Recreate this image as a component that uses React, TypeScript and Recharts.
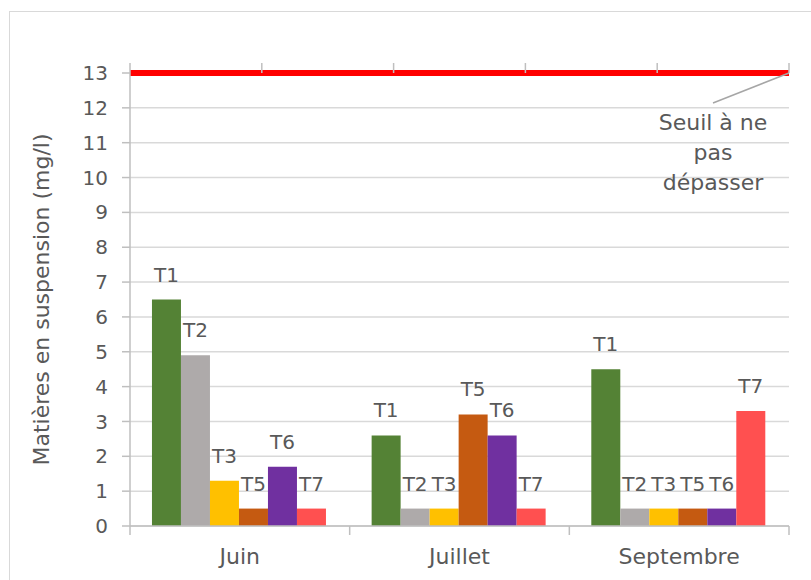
import {
  ComposedChart,
  Bar,
  Line,
  LabelList,
  XAxis,
  YAxis,
  CartesianGrid,
} from "recharts";

const mois = ["Juin", "Juillet", "Septembre"];

const t1 = [6.5, 2.6, 4.5];
const t2 = [4.9, 0.5, 0.5];
const t3 = [1.3, 0.5, 0.5];
const t5 = [0.5, 3.2, 0.5];
const t6 = [1.7, 2.6, 0.5];
const t7 = [0.5, 0.5, 3.3];

const seriesNames = ["T1", "T2", "T3", "T5", "T6", "T7"];
const seriesColors = ["#548235", "#AEAAAA", "#FFC000", "#C55A11", "#7030A0", "#FF5050"];
const seriesValues = [t1, t2, t3, t5, t6, t7];

const yTicks = [0, 1, 2, 3, 4, 5, 6, 7, 8, 9, 10, 11, 12, 13];

// ligne de seuil (axe secondaire du haut)
const seuilPos = [0, 1, 2, 3, 4, 5];
const seuilValues = [13, 13, 13, 13, 13, 13];
const seuilLabel = ["Seuil à ne", "pas", "dépasser"];

const data = mois.map((m, i) => {
  const row: Record<string, string | number> = { mois: m };
  seriesNames.forEach((n, j) => {
    row[n] = seriesValues[j][i];
  });
  return row;
});

const seuilData = seuilPos.map((p, i) => ({ pos: p, seuil: seuilValues[i] }));

const TEXT = "#595959";
const AXIS = "#BFBFBF";
const GRID = "#D9D9D9";
const FONT = "'DejaVu Sans', sans-serif";

function CategoryTick(props: any) {
  const { x, y, payload, width, visibleTicksCount, index } = props;
  const band = width / visibleTicksCount;
  const left = payload.coordinate - band / 2;
  const right = payload.coordinate + band / 2;
  return (
    <g>
      <line x1={left} y1={y} x2={left} y2={y + 9} stroke={AXIS} strokeWidth={1.5} />
      {index === visibleTicksCount - 1 && (
        <line x1={right} y1={y} x2={right} y2={y + 9} stroke={AXIS} strokeWidth={1.5} />
      )}
      <text
        x={x}
        y={y + 38}
        textAnchor="middle"
        fill={TEXT}
        fontSize={22}
        fontFamily={FONT}
      >
        {payload.value}
      </text>
    </g>
  );
}

function SeuilLabel(props: any) {
  const { x, y, index } = props;
  if (index !== seuilPos.length - 1) return null;
  const tx = x - 76;
  return (
    <g>
      <line x1={x} y1={y} x2={tx} y2={y + 30} stroke="#A6A6A6" strokeWidth={1.5} />
      {seuilLabel.map((s, i) => (
        <text
          key={s}
          x={tx}
          y={y + 57 + i * 30}
          textAnchor="middle"
          fill={TEXT}
          fontSize={22}
          fontFamily={FONT}
        >
          {s}
        </text>
      ))}
    </g>
  );
}

function YTitle(props: any) {
  const { viewBox } = props;
  const cy = viewBox.y + viewBox.height / 2;
  return (
    <text
      x={41}
      y={cy}
      transform={`rotate(-90, 41, ${cy})`}
      textAnchor="middle"
      dominantBaseline="central"
      fill={TEXT}
      fontSize={22}
      fontFamily={FONT}
    >
      Matières en suspension (mg/l)
    </text>
  );
}

export default function App() {
  return (
    <div
      style={{
        position: "fixed",
        left: 0,
        top: 0,
        width: 811,
        height: 580,
        background: "#fff",
        overflow: "hidden",
      }}
    >
      <div
        style={{
          position: "absolute",
          left: 9,
          top: 11,
          width: 830,
          height: 600,
          border: "1.5px solid #D9D9D9",
        }}
      />
      <div style={{ position: "absolute", left: 0, top: 0 }}>
        <ComposedChart
          width={811}
          height={580}
          data={data}
          margin={{ top: 63, right: 22, bottom: 14, left: 30 }}
          barCategoryGap="10%"
          barGap={0}
        >
          <CartesianGrid vertical={false} stroke={GRID} strokeWidth={1.5} />
          <XAxis
            dataKey="mois"
            xAxisId="cat"
            height={40}
            axisLine={{ stroke: AXIS, strokeWidth: 1.5 }}
            tickLine={false}
            tickSize={0}
            tickMargin={0}
            tick={<CategoryTick />}
            interval={0}
          />
          <XAxis
            dataKey="pos"
            xAxisId="seuil"
            type="number"
            orientation="top"
            domain={[0, 5]}
            ticks={seuilPos}
            height={10}
            tickSize={10}
            tickFormatter={() => ""}
            axisLine={false}
            tickLine={{ stroke: AXIS, strokeWidth: 1.5 }}
          />
          <YAxis
            width={100}
            domain={[0, 13]}
            ticks={yTicks}
            interval={0}
            tickSize={8}
            tickMargin={14}
            axisLine={{ stroke: AXIS, strokeWidth: 1.5 }}
            tickLine={{ stroke: AXIS, strokeWidth: 1.5 }}
            tick={{ fill: TEXT, fontSize: 20, fontFamily: FONT }}
            label={<YTitle />}
          />
          {seriesNames.map((n, j) => (
            <Bar
              key={n}
              dataKey={n}
              xAxisId="cat"
              fill={seriesColors[j]}
              isAnimationActive={false}
            >
              <LabelList
                dataKey={n}
                position="top"
                offset={18}
                formatter={() => n}
                fill={TEXT}
                fontSize={20}
                fontFamily={FONT}
              />
            </Bar>
          ))}
          <Line
            data={seuilData}
            dataKey="seuil"
            xAxisId="seuil"
            stroke="#FF0000"
            strokeWidth={6}
            dot={false}
            isAnimationActive={false}
          >
            <LabelList dataKey="seuil" content={<SeuilLabel />} />
          </Line>
        </ComposedChart>
      </div>
    </div>
  );
}
